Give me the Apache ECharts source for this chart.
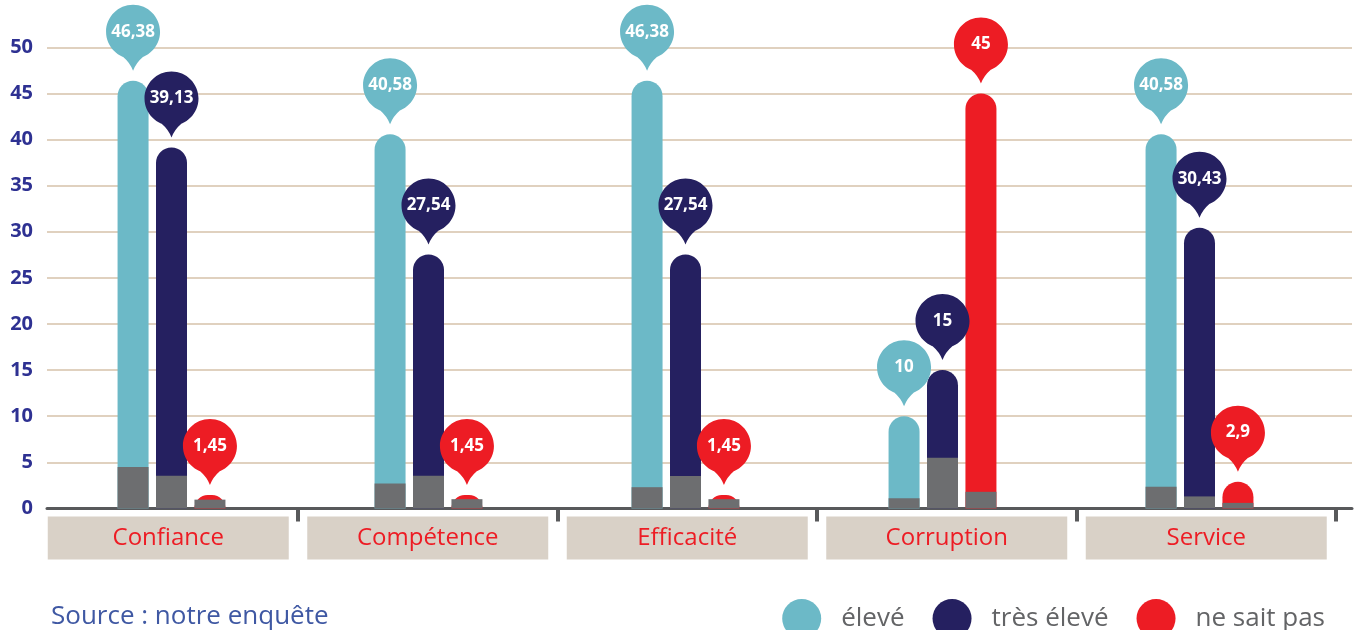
<!DOCTYPE html>
<html>
<head>
<meta charset="utf-8">
<script src="https://cdn.jsdelivr.net/npm/echarts@6/dist/echarts.min.js"></script>
<style>
  html, body { margin: 0; padding: 0; background: #ffffff; }
  #chart { width: 1359px; height: 630px; }
</style>
</head>
<body>
<div id="chart"></div>
<script>
// Categories and values (%)
const categories = ['Confiance', 'Compétence', 'Efficacité', 'Corruption', 'Service'];
const eleve      = [46.38, 40.58, 46.38, 10, 40.58];
const tresEleve  = [39.13, 27.54, 27.54, 15, 30.43];
const nsp        = [1.45, 1.45, 1.45, 45, 2.9];
// Grey base segment at the foot of each bar
const eleveBase     = [4.5, 2.7, 2.3, 1.1, 2.35];
const tresEleveBase = [3.55, 3.55, 3.5, 5.5, 1.3];
const nspBase       = [0.95, 1.0, 1.0, 1.8, 0.6];
const yTicks = { min: 0, max: 50, step: 5 };

const FONT = '"Open Sans", "Noto Sans", sans-serif';
const C_ELEVE = '#6cb9c7';
const C_TRES = '#252060';
const C_NSP = '#ed1c24';
const C_GREY = '#6d6e70';

const fmt = v => String(v).replace('.', ',');

// Round marker (circle r=27) with a short pointed tail, tip 39 below the centre
const PIN_PATH = 'path://'
  + 'M27 0 C41.91 0 54 12.09 54 27 C54 41.91 41.91 54 27 54 C12.09 54 0 41.91 0 27 C0 12.09 12.09 0 27 0 Z '
  + 'M37.1 52 Q30 58 27 66 Q24 58 16.9 52 Z';

function pins(values, color) {
  return {
    symbol: PIN_PATH,
    symbolSize: [54, 66],
    symbolKeepAspect: false,
    symbolOffset: [0, -43],
    itemStyle: { color: color },
    label: {
      show: true,
      position: 'inside',
      formatter: p => fmt(p.value),
      color: '#ffffff',
      fontSize: 17,
      fontWeight: 'bold',
      fontFamily: FONT,
      offset: [0, -6]
    },
    data: values.map((v, i) => ({ coord: [i, v], value: v }))
  };
}

const BAR_W = 31;
const BAR_GAP = '24%';

function colorBar(name, values, color) {
  return {
    name: name,
    type: 'bar',
    xAxisIndex: 0,
    yAxisIndex: 0,
    barWidth: BAR_W,
    barGap: BAR_GAP,
    z: 2,
    itemStyle: { color: color, borderRadius: [15.5, 15.5, 0, 0] },
    data: values,
    markPoint: pins(values, color)
  };
}

function greyBar(name, values) {
  return {
    name: name,
    type: 'bar',
    xAxisIndex: 3,
    yAxisIndex: 0,
    barWidth: BAR_W,
    barGap: BAR_GAP,
    z: 3,
    silent: true,
    itemStyle: { color: C_GREY },
    data: values
  };
}

const chart = echarts.init(document.getElementById('chart'), null, { renderer: 'canvas' });

const TOP = 47.3;
const BOTTOM = 630 - 508.4;

chart.setOption({
  animation: false,
  backgroundColor: '#ffffff',
  title: {
    text: 'Source : notre enquête',
    left: 46,
    top: 599,
    textStyle: { fontSize: 26, fontWeight: 'normal', color: '#3f58a3', fontFamily: FONT }
  },
  legend: {
    data: ['élevé', 'très élevé', 'ne sait pas'],
    right: 29,
    top: 594,
    icon: 'circle',
    itemWidth: 39,
    itemHeight: 39,
    itemGap: 28,
    textStyle: { fontSize: 26, color: '#636466', fontFamily: FONT, padding: [0, 0, 10, 15] }
  },
  grid: [
    { left: 43, right: 31, top: TOP, bottom: BOTTOM },
    { left: 38.5, right: 23, top: TOP, bottom: BOTTOM },
    { left: 47, right: 7, top: TOP, bottom: BOTTOM }
  ],
  xAxis: [
    { type: 'category', gridIndex: 0, data: categories, show: false },
    {
      type: 'category', gridIndex: 1, data: categories,
      axisLine: { show: false },
      axisTick: {
        show: true, length: 13,
        interval: i => i !== 0,
        lineStyle: { color: '#58595b', width: 4 }
      },
      axisLabel: {
        margin: 8,
        interval: 0,
        formatter: v => '{b|' + v + '}',
        rich: {
          b: {
            backgroundColor: '#d9d1c7',
            width: 241,
            height: 43,
            lineHeight: 43,
            align: 'center',
            color: C_NSP,
            fontSize: 24,
            fontFamily: FONT
          }
        }
      }
    },
    {
      type: 'category', gridIndex: 2, data: categories,
      axisLine: { show: true, lineStyle: { color: '#58595b', width: 3 } },
      axisTick: { show: false },
      axisLabel: { show: false }
    },
    { type: 'category', gridIndex: 0, data: categories, show: false }
  ],
  yAxis: [
    { type: 'value', gridIndex: 0, min: yTicks.min, max: yTicks.max, interval: yTicks.step, show: false },
    { type: 'value', gridIndex: 1, min: yTicks.min, max: yTicks.max, interval: yTicks.step, show: false },
    {
      type: 'value', gridIndex: 2, min: yTicks.min, max: yTicks.max, interval: yTicks.step,
      axisLine: { show: false },
      axisTick: { show: false },
      axisLabel: { margin: 14, fontSize: 20, fontWeight: 'bold', color: '#2e3192', fontFamily: FONT },
      splitLine: { lineStyle: { color: '#d6c2aa', width: 1.5 } }
    }
  ],
  series: [
    colorBar('élevé', eleve, C_ELEVE),
    colorBar('très élevé', tresEleve, C_TRES),
    colorBar('ne sait pas', nsp, C_NSP),
    greyBar('base élevé', eleveBase),
    greyBar('base très élevé', tresEleveBase),
    greyBar('base ne sait pas', nspBase)
  ]
});
</script>
</body>
</html>
